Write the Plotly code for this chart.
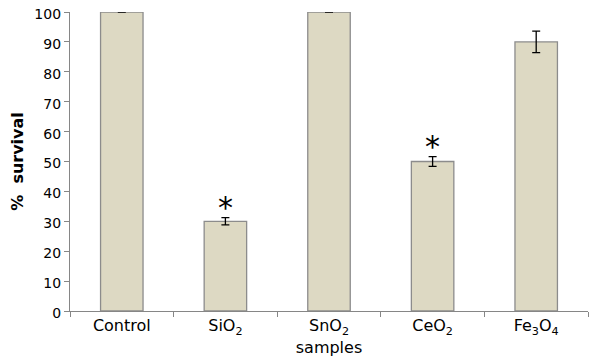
import plotly.graph_objects as go

categories = ["Control", "SiO<sub>2</sub>", "SnO<sub>2</sub>", "CeO<sub>2</sub>", "Fe<sub>3</sub>O<sub>4</sub>"]
survival = [100, 30, 100, 50, 90]
error = [None, 1.2, None, 1.6, 3.6]
significant = [False, True, False, True, False]

fig = go.Figure()
fig.add_trace(go.Bar(
    x=categories, y=survival,
    error_y=dict(type="data", array=error, visible=True, color="black", thickness=1.3, width=4),
    marker=dict(color="#DDD9C3", line=dict(color="#8C8C8C", width=1.3)),
    width=0.41, cliponaxis=False,
))

for c, v, e, s in zip(categories, survival, error, significant):
    if s:
        fig.add_annotation(x=c, y=v + (e or 0), text="*", showarrow=False, yanchor="bottom",
                           yshift=-9, font=dict(family="DejaVu Sans", size=30, color="black"))

# page body adds an 8px offset, so the figure is sized to compensate
fig.update_layout(
    width=592, height=355,
    margin=dict(l=62, r=12, t=4, b=52),
    plot_bgcolor="white", paper_bgcolor="white",
    showlegend=False,
    font=dict(family="DejaVu Sans", size=14, color="black"),
)
fig.update_xaxes(
    automargin=False,
    showline=True, linecolor="#868686", linewidth=1.3,
    ticks="outside", tickson="boundaries", ticklen=5, tickcolor="#868686",
    tickfont=dict(size=16),
    title=dict(text="samples", font=dict(size=16), standoff=5),
    range=[-0.5, 4.5],
)
fig.update_yaxes(
    automargin=False, ticklabeloverflow="allow", ticklabelshift=2,
    range=[0, 100], dtick=10, showgrid=False, zeroline=False,
    showline=True, linecolor="#868686", linewidth=1.3,
    ticks="outside", ticklen=5, tickcolor="#868686",
    tickfont=dict(size=14),
    title=dict(text="<b>%  survival</b>", font=dict(size=16), standoff=12),
)

fig.write_html("out.html")
